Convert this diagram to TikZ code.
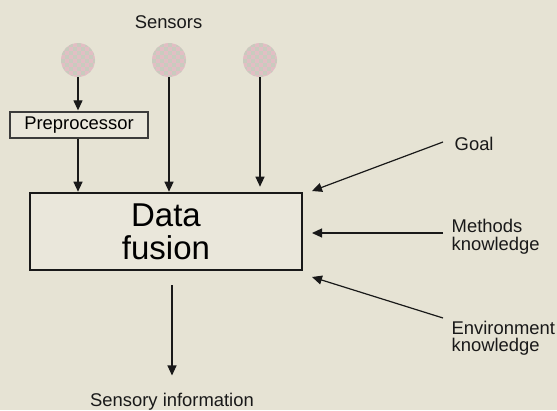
\documentclass[tikz,border=0pt]{standalone}
\usepackage{fontspec}
\setmainfont{Liberation Sans}
\usetikzlibrary{arrows.meta,calc}
\definecolor{bg}{RGB}{230,227,212}
\definecolor{boxfill}{RGB}{234,231,219}
\definecolor{chkA}{RGB}{226,190,196}
\definecolor{chkB}{RGB}{201,203,190}
\definecolor{ink}{RGB}{25,25,25}
\tikzset{
  lbl/.style={inner sep=0pt, font=\fontsize{18.4}{17.5}\selectfont, text=ink},
  sensor/.style={circle, minimum size=34pt, inner sep=0pt, fill=chkA,
    path picture={
      \foreach \i in {0,...,8}{\foreach \j in {0,...,8}{
        \pgfmathtruncatemacro\kk{mod(\i+\j,2)}
        \ifnum\kk=0
          \fill[chkB] ($(path picture bounding box.north west)+(\i*4,\j*4)$) rectangle ++(4,4);
        \fi}}}},
  prebox/.style={draw=ink!85, line width=1.3pt, fill=boxfill, minimum width=138pt, minimum height=26pt, inner sep=0pt, font=\fontsize{18.4}{18}\selectfont},
  fusebox/.style={draw=ink, line width=2.6pt, fill=boxfill, minimum width=272pt, minimum height=77pt, inner sep=0pt, align=center, font=\fontsize{33}{33}\selectfont},
  arr/.style={draw=ink, line width=1.2pt, -{Triangle[length=10pt,width=9pt]}}
}
\begin{document}
\begin{tikzpicture}[x=1pt,y=-1pt]
\fill[bg] (0,0) rectangle (557,410);
\useasboundingbox (0,0) rectangle (557,410);

\node[lbl, anchor=base] (sensors) at (168.5,28) {Sensors};
\node[sensor] (s1) at (78,60) {};
\node[sensor] (s2) at (169,60) {};
\node[sensor] (s3) at (260,60) {};

\node[prebox] (pre) at (79,125) {Preprocessor};
\node[fusebox] (df) at (166,231.5) {Data\\fusion};

\draw[arr] (s1.south) -- ([yshift=1pt]pre.north -| s1.south);
\draw[arr] (pre.south -| s1.south) -- (df.north -| s1.south);
\draw[arr] (s2.south) -- (df.north -| s2.south);
\draw[arr] (s3.south) -- ([yshift=5pt]df.north -| s3.south);

\node[lbl, anchor=base] (si) at (172,406) {Sensory information};
\draw[arr, shorten <=14pt] (si.north |- df.south) -- ([yshift=17pt]si.north);

\node[lbl, anchor=base west] (goal) at (454.5,150) {Goal};
\node[lbl, anchor=north west, align=left] (meth) at (451.5,219) {Methods\\knowledge};
\node[lbl, anchor=north west, align=left] (env) at (451.5,320.5) {Environment\\knowledge};

\coordinate (g1) at (443,142);
\coordinate (g2) at (312,191);
\coordinate (m1) at (443,233);
\coordinate (m2) at (312,233);
\coordinate (e1) at (443,318);
\coordinate (e2) at (312,277);
\draw[arr] (g1) -- (g2);
\draw[arr] (m1) -- (m2);
\draw[arr] (e1) -- (e2);
\end{tikzpicture}
\end{document}
